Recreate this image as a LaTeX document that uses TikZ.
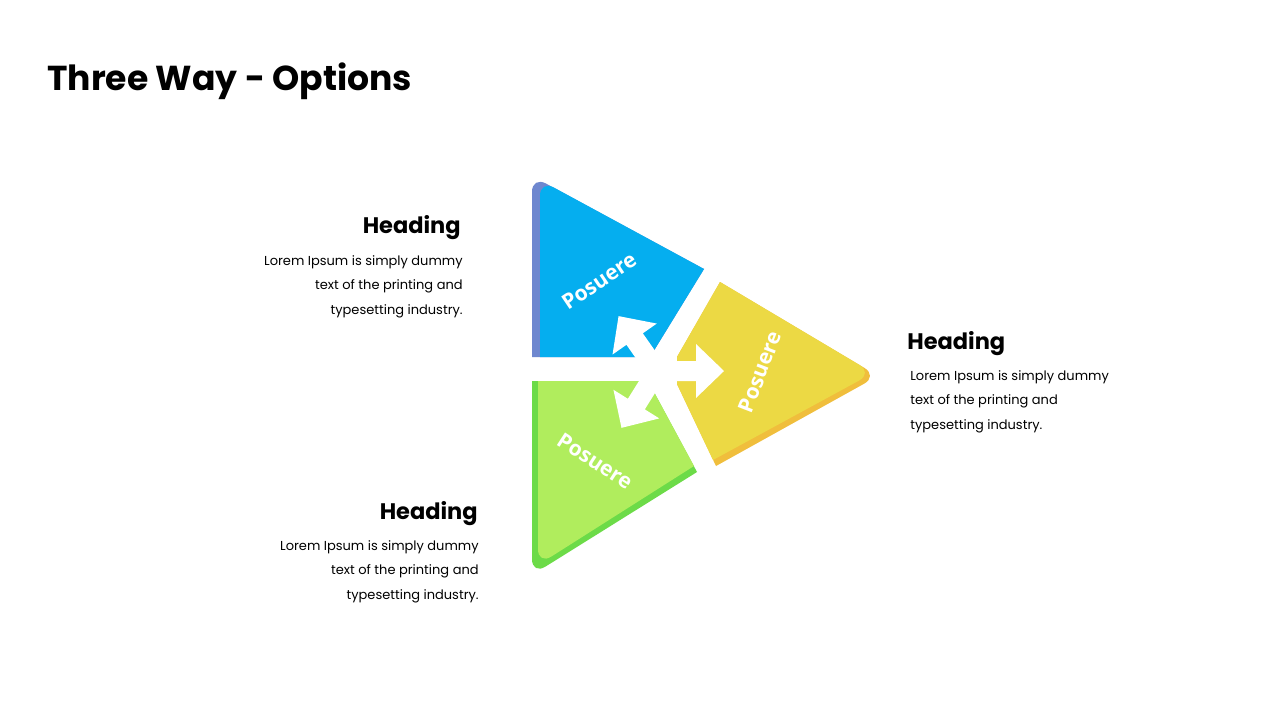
\documentclass[tikz,border=0pt]{standalone}
\usepackage{fontspec}
\setmainfont{Poppins}
\newfontfamily\petalfont{Open Sans}
\definecolor{petalblue}{HTML}{05AEEF}
\definecolor{edgeblue}{HTML}{6E87CF}
\definecolor{petalyellow}{HTML}{ECD944}
\definecolor{edgeyellow}{HTML}{F0BE3C}
\definecolor{petalgreen}{HTML}{B0ED5D}
\definecolor{edgegreen}{HTML}{6CDB48}
\begin{document}
\begin{tikzpicture}[x=0.02cm, y=-0.02cm,
  heading/.style={font=\bfseries\fontsize{12.8}{15}\selectfont, inner sep=0pt},
  blurb/.style={font=\fontsize{7.4}{13.7}\selectfont, inner sep=0pt},
  petal/.style={font=\petalfont\bfseries\fontsize{12}{14}\selectfont, text=white, inner sep=0pt}]
  \useasboundingbox (0,0) rectangle (1280,720);
  \fill[white] (0,0) rectangle (1280,720);

  % Title
  \node[font=\bfseries\fontsize{19.7}{24}\selectfont, anchor=base west, inner sep=0pt] (title) at (47,90) {Three Way - Options};

  % Blue segment
  \fill[edgeblue] (532,357) [rounded corners=9pt] -- (532,176) [sharp corners] -- (704,269) -- (650,357) -- cycle;
  \fill[petalblue] (540,357) [rounded corners=9pt] -- (540,180) [sharp corners] -- (704,269) -- (650,357) -- cycle;

  % Yellow segment
  \fill[edgeyellow] (720,282) [rounded corners=9pt] -- (878,376) [sharp corners] -- (716,466) -- (677,384) -- (677,357) -- cycle;
  \fill[petalyellow] (720,282) [rounded corners=9pt] -- (873,373) [sharp corners] -- (713,460) -- (677,384) -- (677,357) -- cycle;

  % Green segment
  \fill[edgegreen] (532,381) -- (648,381) -- (697,472) [rounded corners=9pt] -- (532,575) [sharp corners] -- cycle;
  \fill[petalgreen] (538,381) -- (648,381) -- (694,466) [rounded corners=9pt] -- (538,565) [sharp corners] -- cycle;

  % Arrows out of the middle
  \foreach \ang in {0,125,238}
    \fill[white, shift={(657,371)}, rotate=\ang] (0,-10) -- (39,-10) -- (39,-27) -- (67,0) -- (39,27) -- (39,10) -- (0,10) -- cycle;

  % Segment labels
  \node[petal, rotate=34] (posA) at (599,281) {Posuere};
  \node[petal, rotate=69] (posB) at (760,372) {Posuere};
  \node[petal, rotate=-33] (posC) at (595,461) {Posuere};

  % Upper left text
  \node[heading, anchor=base east] (headA) at (461,233) {Heading};
  \node[blurb, align=right, anchor=base east] (textA) at (463,314) {Lorem Ipsum is simply dummy\\text of the printing and\\typesetting industry.};

  % Right text
  \node[heading, anchor=base west] (headB) at (907,349) {Heading};
  \node[blurb, align=left, anchor=base west] (textB) at (910,429) {Lorem Ipsum is simply dummy\\text of the printing and\\typesetting industry.};

  % Lower left text
  \node[heading, anchor=base east] (headC) at (478,519) {Heading};
  \node[blurb, align=right, anchor=base east] (textC) at (479,599) {Lorem Ipsum is simply dummy\\text of the printing and\\typesetting industry.};
\end{tikzpicture}
\end{document}
